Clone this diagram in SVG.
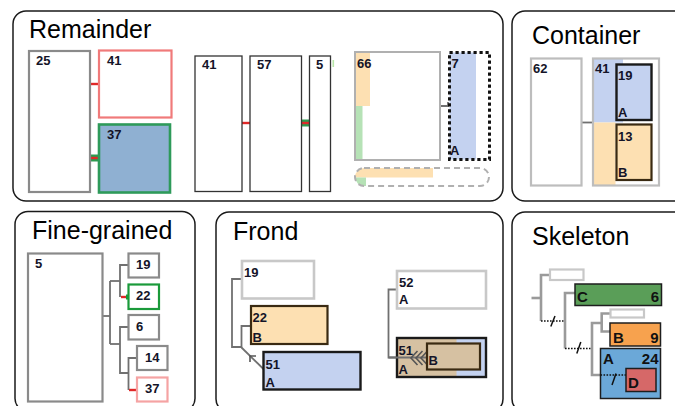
<svg xmlns="http://www.w3.org/2000/svg" width="675" height="406" viewBox="0 0 675 406">
  <style>
    .panel { fill: #fff; stroke: #1a1a1a; stroke-width: 1.5; }
    .title { font-family: "Liberation Sans", Arial, sans-serif; font-size: 25px; fill: #000; }
    .lbl { font-family: "Liberation Sans", Arial, sans-serif; font-size: 13px; font-weight: bold; fill: #141428; }
    .lbl-big { font-family: "Liberation Sans", Arial, sans-serif; font-size: 15px; font-weight: bold; fill: #111; }
    .grey { fill: #fff; stroke: #8a8a8a; stroke-width: 2.2; }
    .light { fill: #fff; stroke: #bdbdbd; stroke-width: 2.2; }
    .thin { fill: #fff; stroke: #333; stroke-width: 1.3; }
    .tree { fill: none; stroke: #707070; stroke-width: 1.8; }
    .chev { fill: none; stroke: #555; stroke-width: 1.6; }
    .skel { fill: none; stroke: #9a9a9a; stroke-width: 2.6; }
    .dots { fill: none; stroke: #111; stroke-width: 1.7; stroke-dasharray: 1.6 1.4; }
    .slash { fill: none; stroke: #111; stroke-width: 1.5; }
    .red { stroke: #e02828; stroke-width: 2.4; fill: none; }
    .grn { stroke: #2e9a50; stroke-width: 7; fill: none; }
    .dark { stroke: #1a1a1a; stroke-width: 2.4; }
    .brown { stroke: #3a2a12; stroke-width: 2.2; }
  </style>
  <defs>
    <clipPath id="pillClip">
      <rect x="355" y="168" width="134" height="18" rx="9"/>
    </clipPath>
  </defs>

  <!-- panel frames -->
  <g id="panels">
    <rect class="panel" x="13" y="11" width="490" height="190" rx="13"/>
    <rect class="panel" x="512" y="11" width="185" height="190" rx="13"/>
    <rect class="panel" x="15" y="211.5" width="180" height="200" rx="13"/>
    <rect class="panel" x="216" y="212" width="287" height="200" rx="13"/>
    <rect class="panel" x="512" y="212" width="185" height="200" rx="13"/>
    <text class="title" x="29" y="38">Remainder</text>
    <text class="title" x="532" y="44">Container</text>
    <text class="title" x="32" y="239">Fine-grained</text>
    <text class="title" x="233" y="240">Frond</text>
    <text class="title" x="532" y="245">Skeleton</text>
  </g>

  <!-- connectors -->
  <g id="connectors">
    <!-- Remainder -->
    <line class="red" x1="90" y1="84" x2="99" y2="84"/>
    <line class="grn" x1="90" y1="158" x2="99" y2="158"/>
    <line class="red" x1="90" y1="158" x2="99" y2="158"/>
    <line class="red" x1="242" y1="123" x2="250" y2="123"/>
    <line class="grn" x1="302" y1="123" x2="309" y2="123"/>
    <line class="red" x1="302" y1="123" x2="309" y2="123"/>
    <polyline class="tree" points="440,106 448,106 448,102"/>
    <!-- Container -->
    <line class="tree" x1="582" y1="122.5" x2="593" y2="122.5"/>
    <!-- Fine-grained -->
    <polyline class="tree" points="102,316 110,316"/>
    <polyline class="tree" points="110,281 110,344"/>
    <polyline class="tree" points="110,281 120,281"/>
    <polyline class="tree" points="128,265 120,265 120,297"/>
    <line class="red" x1="121" y1="297" x2="127" y2="297"/>
    <line x1="126" y1="297" x2="129" y2="297" stroke="#1a9a3a" stroke-width="5"/>
    <polyline class="tree" points="110,344 120,344"/>
    <polyline class="tree" points="128,327 120,327 120,373 128.5,373"/>
    <polyline class="tree" points="137,358 128.5,358 128.5,390"/>
    <line class="red" x1="129" y1="390" x2="137" y2="390"/>
    <!-- Frond, left tree -->
    <polyline class="tree" points="242,279 232,279 232,347 242,347"/>
    <polyline class="tree" points="251,326 241.5,326 241.5,347.5"/>
    <line class="tree" x1="241.5" y1="347.5" x2="264" y2="369.5"/>
    <polyline class="chev" points="256,356 250,356 250,362"/>
    <!-- Frond, right tree -->
    <polyline class="tree" points="397,289.5 388.5,289.5 388.5,357.5 412,357.5"/>
    <!-- Skeleton -->
    <line class="skel" x1="531.5" y1="298" x2="541" y2="298"/>
    <polyline class="skel" points="550,275 541,275 541,321"/>
    <line class="dots" x1="541" y1="321" x2="565" y2="321"/>
    <line class="slash" x1="550.8" y1="326.5" x2="555" y2="316"/>
    <polyline class="skel" points="575,293 565,293 565,348.5"/>
    <line class="dots" x1="565" y1="348.5" x2="592" y2="348.5"/>
    <line class="slash" x1="576.8" y1="353.5" x2="580.8" y2="342"/>
    <polyline class="skel" points="610.5,313.5 601.7,313.5 601.7,331.5 610,331.5"/>
    <polyline class="skel" points="601.7,323 592,323 592,375 600.5,375"/>
  </g>

  <!-- Remainder nodes -->
  <g id="r-25"><rect class="grey" x="29" y="51" width="61" height="141"/><text class="lbl" x="36" y="65">25</text></g>
  <g id="r-41a"><rect x="99" y="50.5" width="72.5" height="67" fill="#fff" stroke="#f07a7a" stroke-width="2.2"/><text class="lbl" x="107" y="65">41</text></g>
  <g id="r-37"><rect x="99" y="124.5" width="71" height="68" fill="#8fb0d2" stroke="#2e9a5a" stroke-width="2.6"/><text class="lbl" x="107" y="139">37</text></g>
  <g id="r-41b"><rect class="thin" x="195" y="56" width="47" height="135.5"/><text class="lbl" x="202" y="69">41</text></g>
  <g id="r-57"><rect class="thin" x="250" y="56" width="51.5" height="135.5"/><text class="lbl" x="257" y="69">57</text></g>
  <g id="r-5"><rect class="thin" x="309.5" y="56" width="21" height="135.5"/><text class="lbl" x="316" y="69">5</text></g>
  <rect x="332.5" y="60" width="1.6" height="7" fill="#b8e6a8"/>
  <g id="r-66">
    <rect x="355" y="52" width="85" height="108" fill="#fff"/>
    <rect x="355" y="52" width="15" height="54" fill="#fde0b2"/>
    <rect x="355" y="106" width="7.5" height="54" fill="#b6e2b6"/>
    <rect x="355" y="52" width="85" height="108" fill="none" stroke="#b0b0b0" stroke-width="2"/>
    <text class="lbl" x="357" y="68">66</text>
  </g>
  <g id="r-7">
    <rect x="449.5" y="52.5" width="26.5" height="107" fill="#c4d2f0"/>
    <rect x="449.5" y="52.5" width="40" height="107" fill="none" stroke="#111" stroke-width="3" stroke-dasharray="3.2 2.8"/>
    <text class="lbl" x="451.5" y="68">7</text>
    <text class="lbl" x="450" y="155">A</text>
  </g>
  <g id="r-pill">
    <g clip-path="url(#pillClip)">
      <rect x="355" y="168" width="134" height="18" fill="#fff"/>
      <rect x="355" y="168" width="78" height="9.5" fill="#fde0b2"/>
      <rect x="355" y="177.5" width="11" height="9" fill="#b6e2b6"/>
    </g>
    <rect x="355" y="168" width="134" height="18" rx="9" fill="none" stroke="#b0b0b0" stroke-width="2" stroke-dasharray="6 4"/>
  </g>

  <!-- Container nodes -->
  <g id="c-62"><rect class="light" x="531" y="58.5" width="50.5" height="127"/><text class="lbl" x="533" y="73">62</text></g>
  <g id="c-41">
    <rect x="593" y="58.5" width="66" height="127" fill="#fff"/>
    <rect x="593" y="58.5" width="30" height="64" fill="#c4d2f0"/>
    <rect x="593" y="122.5" width="22.5" height="63" fill="#fde0b2"/>
    <rect x="593" y="58.5" width="66" height="127" fill="none" stroke="#bdbdbd" stroke-width="2.2"/>
    <text class="lbl" x="595" y="73">41</text>
  </g>
  <g id="c-19"><rect class="dark" x="616.5" y="64.5" width="35" height="55.5" fill="#c4d2f0"/><text class="lbl" x="618" y="80">19</text><text class="lbl" x="618" y="117">A</text></g>
  <g id="c-13"><rect class="brown" x="616.5" y="124.5" width="35" height="55.5" fill="#fde0b2"/><text class="lbl" x="618" y="141">13</text><text class="lbl" x="618" y="177">B</text></g>

  <!-- Fine-grained nodes -->
  <g id="f-5"><rect class="grey" x="28" y="253.5" width="74.5" height="148"/><text class="lbl" x="35" y="268">5</text></g>
  <g id="f-19"><rect class="grey" x="128.5" y="253.5" width="30.5" height="24"/><text class="lbl" x="136" y="268.5">19</text></g>
  <g id="f-22"><rect x="128.5" y="284.5" width="30.5" height="24.5" fill="#fff" stroke="#1a9a3a" stroke-width="2.2"/><text class="lbl" x="136" y="300">22</text></g>
  <g id="f-6"><rect class="grey" x="128.5" y="315" width="30.5" height="24.5"/><text class="lbl" x="136" y="331">6</text></g>
  <g id="f-14"><rect class="grey" x="137" y="346" width="30.5" height="24"/><text class="lbl" x="145" y="362">14</text></g>
  <g id="f-37"><rect x="137" y="377.5" width="30.5" height="24" fill="#fff" stroke="#f5a3a3" stroke-width="2.2"/><text class="lbl" x="145" y="393">37</text></g>

  <!-- Frond nodes -->
  <g id="fr-19"><rect x="242" y="261" width="72" height="37.5" fill="#fff" stroke="#c8c8c8" stroke-width="2.6"/><text class="lbl" x="244" y="277">19</text></g>
  <g id="fr-22"><rect class="brown" x="251" y="306" width="76.5" height="38" fill="#fde0b2"/><text class="lbl" x="252.5" y="322">22</text><text class="lbl" x="252.5" y="341.5">B</text></g>
  <g id="fr-51"><rect class="dark" x="263.5" y="352" width="97" height="37.5" fill="#c4d2f0"/><text class="lbl" x="265.5" y="368.5">51</text><text class="lbl" x="265.5" y="386.5">A</text></g>
  <g id="fr-52"><rect x="397" y="271" width="89" height="37.5" fill="#fff" stroke="#c8c8c8" stroke-width="2.6"/><text class="lbl" x="399" y="287">52</text><text class="lbl" x="399" y="304">A</text></g>
  <g id="fr-51b">
    <rect x="397" y="338" width="89" height="39" fill="#d6c1a2"/>
    <rect x="456.5" y="338" width="29.5" height="39" fill="#c4d2f0"/>
    <rect class="dark" x="397" y="338" width="89" height="39" fill="none"/>
    <polyline class="tree" points="388.5,357.5 427,357.5"/>
    <polyline class="chev" points="417.5,351 411,358 417.5,365"/>
    <polyline class="chev" points="422.5,351 416,358 422.5,365"/>
    <polyline class="chev" points="427.5,351 421,358 427.5,365"/>
    <text class="lbl" x="398.5" y="355">51</text>
    <text class="lbl" x="398.5" y="374">A</text>
  </g>
  <g id="fr-B"><rect class="brown" x="427" y="343.5" width="53" height="26" fill="#d6c1a2"/><text class="lbl" x="428.5" y="365">B</text></g>

  <!-- Skeleton nodes -->
  <g id="s-top"><rect x="550" y="269.5" width="33.5" height="10.5" fill="#fff" stroke="#c8c8c8" stroke-width="2.2"/></g>
  <g id="s-C"><rect x="575" y="284" width="86.5" height="21.5" fill="#5a9e58" stroke="#1e1e1e" stroke-width="1.5"/><text class="lbl-big" x="577" y="302">C</text><text class="lbl-big" x="659" y="302" text-anchor="end">6</text></g>
  <g id="s-mid"><rect x="610.5" y="309.5" width="33.5" height="8" fill="#fff" stroke="#c8c8c8" stroke-width="2.2"/></g>
  <g id="s-B"><rect x="610" y="323" width="50.5" height="23" fill="#f7a24e" stroke="#1e1e1e" stroke-width="1.5"/><text class="lbl-big" x="613" y="342.5">B</text><text class="lbl-big" x="658.5" y="342.5" text-anchor="end">9</text></g>
  <g id="s-A">
    <rect x="600.5" y="348.5" width="60" height="50" fill="#6ba8d8" stroke="#1e1e1e" stroke-width="1.5"/>
    <text class="lbl-big" x="603" y="363.5">A</text><text class="lbl-big" x="658.5" y="363.5" text-anchor="end">24</text>
    <line class="dots" x1="600.5" y1="375" x2="626" y2="375"/>
    <line class="slash" x1="612" y1="385" x2="616" y2="373.5"/>
  </g>
  <g id="s-D"><rect x="626" y="368.5" width="30" height="23" fill="#d66868" stroke="#1e1e1e" stroke-width="1.5"/><text class="lbl-big" x="628" y="388">D</text></g>
</svg>
